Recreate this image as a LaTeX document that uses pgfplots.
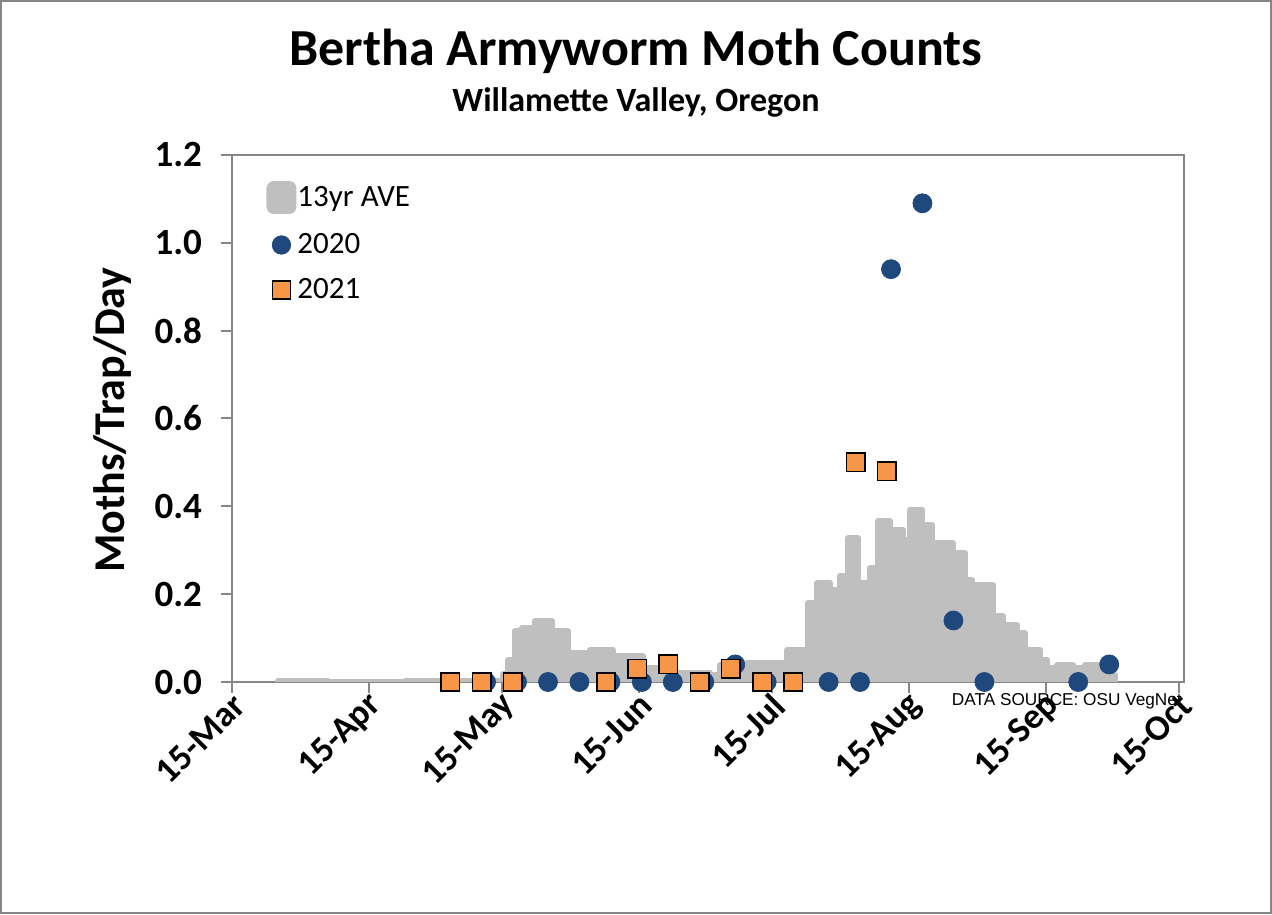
\documentclass[border=0pt]{standalone}
\usepackage{fontspec}
\setmainfont{Carlito}
\newfontfamily\arialfont{Liberation Sans}
\usepackage{pgfplots}
\pgfplotsset{compat=1.18}
\definecolor{avegray}{RGB}{191,191,191}
\definecolor{axgray}{RGB}{134,134,134}
\definecolor{blueA}{RGB}{31,73,125}
\definecolor{orangeB}{RGB}{247,150,70}
\begin{document}
\begin{tikzpicture}
\useasboundingbox (-116pt,-116pt) rectangle (520pt,341pt);
\draw[axgray, line width=1pt] (-115.5pt,-115.5pt) rectangle (519.5pt,340.5pt);
\node[font=\bfseries\fontsize{26}{31}\selectfont] at (202pt,315.5pt) {Bertha Armyworm Moth Counts};
\node[font=\bfseries\fontsize{17}{20}\selectfont] at (202pt,290pt) {Willamette Valley, Oregon};
\begin{axis}[
  at={(0pt,0pt)}, anchor=south west,
  scale only axis, width=476pt, height=263.5pt,
  xmin=0, xmax=215.1, ymin=0, ymax=1.2,
  clip mode=individual,
  /pgf/number format/assume math mode=true,
  xtick={0,31,61,92,122,153,184,214},
  xticklabels={15-Mar,15-Apr,15-May,15-Jun,15-Jul,15-Aug,15-Sep,15-Oct},
  ytick={0,0.2,0.4,0.6,0.8,1.0,1.2},
  yticklabel style={/pgf/number format/fixed, /pgf/number format/fixed zerofill, /pgf/number format/precision=1,
    font=\bfseries\fontsize{18.5}{21}\selectfont, anchor=east, xshift=-6pt},
  xticklabel style={font=\bfseries\fontsize{18}{21}\selectfont, rotate=45, anchor=east, xshift=3.5pt, yshift=-5pt},
  axis line style={axgray, line width=1pt},
  tick style={axgray, line width=1pt},
  tick align=outside, major tick length=5.5pt, tick pos=left,
  ylabel={Moths/Trap/Day},
  ylabel style={font=\bfseries\fontsize{22}{26}\selectfont, at={(axis description cs:-0.126,0.497)}, anchor=center},
  legend style={at={(axis description cs:0.0295,0.959)}, anchor=north west, draw=none, fill=none,
    font=\fontsize{15.5}{18}\selectfont, row sep=8.5pt, nodes={inner sep=0.5pt}},
  legend cell align=left,
]
\addplot[const plot mark left, fill=avegray, draw=avegray, line width=3pt, line join=round,
  legend image code/.code={\path[draw=none,fill=none] (0pt,-7pt) rectangle (13pt,7pt); \fill[avegray, rounded corners=2pt] (0pt,-6.75pt) rectangle (12pt,6.75pt);}]
coordinates {
(10.4,0.003) (21.7,0) (39.1,0.002) (61.2,0.018) (62.4,0.05) (63.9,0.116)
(65.5,0.123) (68.5,0.138) (72.3,0.116) (75.9,0.066) (80.9,0.073) (86.1,0.059)
(92.9,0.032) (98.3,0.02) (108.0,0.016) (110.3,0.039) (116.4,0.043) (125.4,0.073)
(130.2,0.18) (132.2,0.225) (135.1,0.21) (137.4,0.241) (139.2,0.328) (141.5,0.225)
(144.2,0.259) (146.0,0.366) (148.7,0.347) (151.6,0.324) (153.3,0.392) (155.9,0.358)
(158.2,0.316) (162.9,0.293) (165.6,0.233) (167.2,0.221) (172.0,0.15) (174.2,0.13)
(177.4,0.111) (179.2,0.073) (182.6,0.051) (184.2,0.032) (186.5,0.039) (190.1,0.032)
(192.8,0.039) (197.8,0.016) (199.4,0.016)
} \closedcycle;
\addlegendentry{13yr AVE}
\addplot[only marks, mark=*, mark size=4.75pt, mark options={fill=blueA, draw=blueA},
  legend image code/.code={\path[draw=none,fill=none] (0pt,-7pt) rectangle (13pt,7pt); \fill[blueA] (6pt,0pt) circle (4.6pt);}]
coordinates {
(57.4,0) (64.4,0) (71.4,0) (78.5,0) (85.5,0) (92.6,0) (99.6,0) (106.7,0) (113.7,0.04) (120.8,0)
(134.8,0) (141.9,0) (148.9,0.94) (156,1.09) (163,0.14) (170,0) (191.2,0) (198.2,0.04)
};
\addlegendentry{2020}
\addplot[only marks, mark=square*, mark size=4.6pt, mark options={fill=orangeB, draw=black, line width=0.8pt},
  legend image code/.code={\path[draw=none,fill=none] (0pt,-7pt) rectangle (13pt,7pt); \filldraw[fill=orangeB, draw=black, line width=0.8pt] (1.5pt,-4.5pt) rectangle (10.5pt,4.5pt);}]
coordinates {
(49.3,0) (56.4,0) (63.4,0) (84.5,0) (91.6,0.03) (98.6,0.04) (105.7,0) (112.7,0.03) (119.8,0) (126.8,0)
(140.9,0.50) (147.9,0.48)
};
\addlegendentry{2021}
\node[anchor=north east, font=\arialfont\fontsize{8.6}{10}\selectfont, inner sep=0pt] at (rel axis cs:0.998,0) [yshift=-5.5pt] {DATA SOURCE: OSU VegNet};
\end{axis}
\end{tikzpicture}
\end{document}
